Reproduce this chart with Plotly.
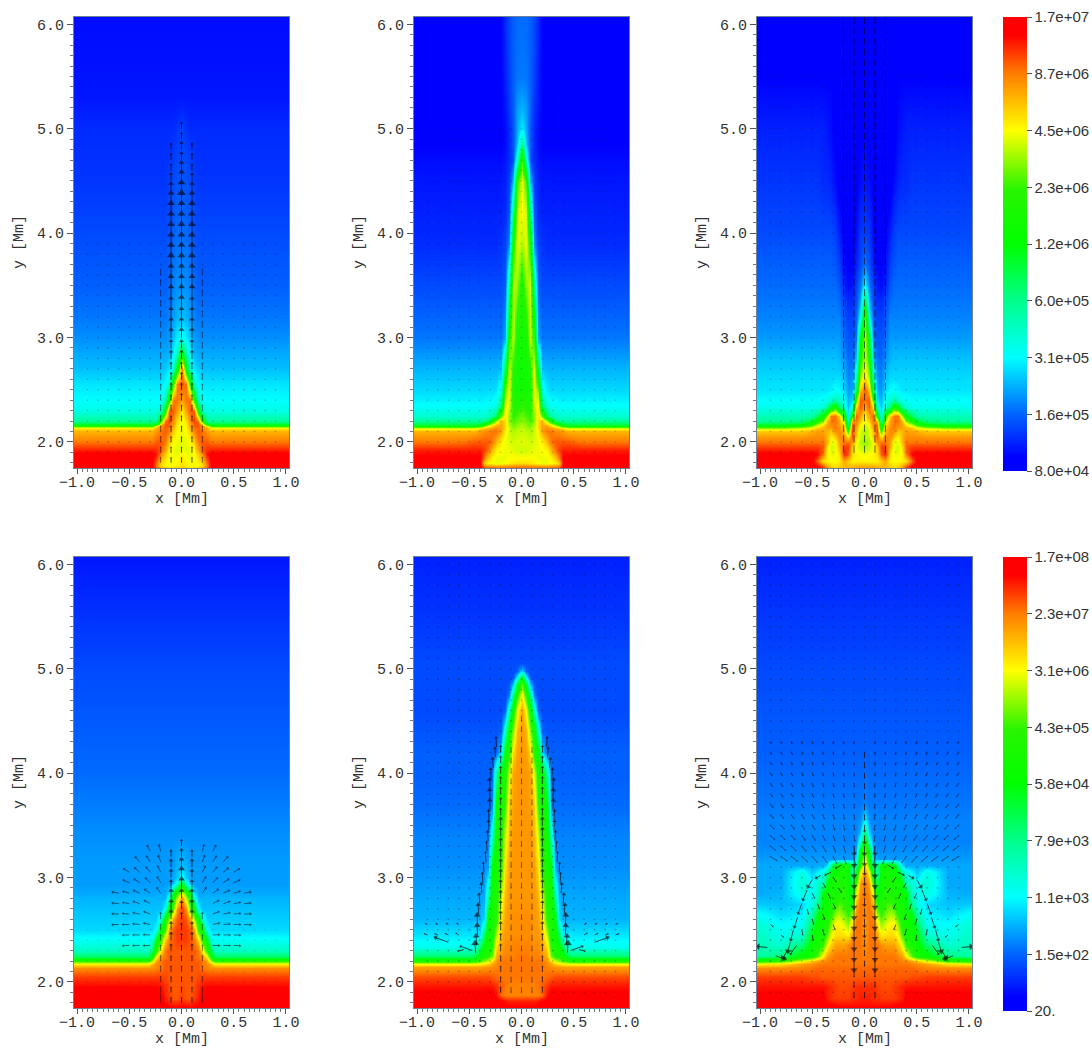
import math
import plotly.graph_objects as go

W, H = 1092, 1048
FONT = "Liberation Mono"

# half-width column positions [Mm]; each panel is mirror-symmetric, a short row repeats its last value outward
xh = [0, .04, .08, .12, .16, .2, .24, .28, .32, .36, .4, .45, .5, .6, .8, 1.05]

# field values in percent of the colour bar height
p1_y = [6.1, 5.3, 5.0, 4.5, 4.0, 3.5, 3.2, 3.0, 2.85, 2.7, 2.55, 2.4, 2.3, 2.2, 2.17, 2.15, 2.13, 2.1, 2.0, 1.92, 1.88, 1.78, 1.74]
p1_z = [[4], [5], [9, 8, 7], [11, 11, 10, 9, 8], [13, 13, 12, 11, 10], [16, 16, 15, 13, 12],
        [20, 19, 17, 15, 14], [26, 24, 20, 17, 16], [50, 32, 24, 19, 18], [88, 52, 30, 23, 21, 20],
        [90, 88, 60, 32, 25, 23], [84, 88, 88, 58, 32, 26, 25], [77, 84, 90, 90, 55, 32, 28],
        [74, 78, 86, 92, 88, 60, 36], [74, 77, 85, 90, 90, 80, 50, 46], [74, 76, 84, 90, 90, 86, 76, 62],
        [74, 76, 82, 88, 90, 86, 82, 76], [74, 75, 80, 87, 90, 88, 85, 82], [73, 74, 75, 80, 88, 90, 90, 88],
        [74, 73, 74, 76, 84, 90, 93, 94], [76, 74, 74, 75, 80, 86, 95, 97], [78, 76, 75, 74, 75, 78, 88, 97],
        [82, 80, 80, 80, 82, 85, 92, 97]]

p2_y = [6.1, 5.5, 5.2, 5.0, 4.85, 4.7, 4.5, 4.2, 3.9, 3.5, 3.0, 2.7, 2.5, 2.35, 2.25, 2.2, 2.16, 2.13, 2.1, 2.0, 1.92, 1.85, 1.8, 1.74]
p2_z = [[13, 13, 12, 10, 7, 3, 2], [14, 14, 12, 9, 6, 3, 2], [19, 17, 12, 8, 5, 3, 2], [24, 18, 11, 7, 4, 3],
        [38, 20, 11, 7, 4, 3], [62, 30, 11, 7, 5, 4], [74, 62, 20, 9, 6, 5], [75, 72, 38, 11, 7, 6],
        [70, 74, 58, 16, 9, 8, 7], [58, 68, 72, 36, 12, 10], [55, 56, 72, 60, 18, 14], [55, 55, 60, 74, 45, 20, 19],
        [55, 55, 58, 74, 66, 28, 23, 22], [62, 60, 60, 72, 76, 40, 28, 26, 26, 25],
        [66, 64, 62, 68, 78, 66, 42, 34, 32, 30], [68, 66, 64, 68, 78, 82, 70, 55, 42, 38, 36],
        [70, 68, 66, 70, 78, 84, 82, 76, 70, 60, 50, 46], [71, 70, 68, 72, 78, 84, 86, 84, 82, 80, 76, 72],
        [72, 71, 70, 72, 76, 84, 88, 88, 86, 86, 84, 82], [73, 73, 72, 73, 74, 76, 82, 88, 90, 90, 90, 90, 89, 88],
        [72, 72, 73, 74, 74, 75, 76, 82, 88, 92, 94], [75, 75, 75, 75, 74, 74, 74, 76, 80, 88, 97],
        [78, 78, 77, 76, 75, 74, 74, 75, 76, 80, 97], [94, 94, 94, 94, 94, 94, 94, 94, 94, 95, 97]]

p3_y = [6.1, 5.5, 5.0, 4.5, 4.0, 3.7, 3.5, 3.35, 3.2, 3.0, 2.8, 2.62, 2.5, 2.4, 2.33, 2.25, 2.2, 2.16, 2.13, 2.1, 2.05, 2.0, 1.95, 1.88, 1.82, 1.76, 1.74]
p3_z = [[3], [3, 3, 2, 2, 2, 2, 2, 2, 3], [3, 2, 1, 1, 1, 1, 1, 2, 4, 5, 6], [5, 4, 2, 1, 1, 1, 1, 4, 6, 7, 7, 8],
        [9, 8, 4, 2, 2, 2, 6, 9, 10], [14, 10, 6, 3, 3, 4, 9, 11, 12], [25, 14, 9, 5, 4, 6, 11, 13],
        [45, 18, 10, 7, 7, 9, 13, 14], [65, 25, 12, 9, 9, 11, 15], [72, 48, 14, 11, 11, 13, 17],
        [72, 58, 20, 13, 13, 16, 19, 20], [78, 68, 32, 16, 15, 20, 22], [90, 80, 42, 18, 17, 22, 25, 26, 24, 23],
        [88, 90, 62, 22, 19, 27, 30, 34, 30, 27, 26, 25], [84, 90, 78, 30, 20, 30, 40, 58, 50, 36, 30, 27],
        [76, 84, 90, 55, 24, 58, 80, 88, 88, 70, 52, 42, 34, 33], [74, 80, 88, 82, 30, 70, 84, 88, 88, 82, 68, 56, 46, 38, 36],
        [72, 76, 86, 90, 42, 78, 84, 88, 86, 84, 78, 72, 62, 52, 48], [71, 74, 84, 90, 50, 80, 86, 88, 84, 84, 82, 80, 76, 72, 68],
        [70, 73, 82, 92, 60, 82, 86, 86, 80, 82, 84, 84, 82, 80], [70, 72, 80, 90, 78, 86, 86, 80, 76, 82, 86, 86, 86, 85],
        [68, 70, 76, 86, 88, 88, 84, 74, 74, 82, 88, 88, 88], [70, 72, 74, 80, 92, 92, 82, 74, 72, 78, 90, 92],
        [74, 75, 76, 78, 90, 94, 78, 74, 74, 76, 88, 96, 97], [76, 76, 76, 76, 80, 84, 76, 75, 75, 76, 78, 90, 97],
        [84, 84, 84, 82, 82, 82, 80, 78, 80, 84, 92, 97], [94, 94, 94, 94, 94, 94, 94, 94, 94, 94, 96, 97]]

p4_y = [6.1, 5.0, 4.0, 3.4, 3.1, 3.0, 2.95, 2.85, 2.8, 2.7, 2.6, 2.5, 2.4, 2.3, 2.24, 2.2, 2.17, 2.13, 2.05, 1.95, 1.85, 1.74]
p4_z = [[5], [10], [13], [16], [20, 19, 17], [26, 21, 18, 17], [48, 28, 19, 17], [72, 62, 46, 22, 18], [86, 70, 58, 30, 19],
        [92, 86, 64, 55, 26, 20], [92, 90, 84, 68, 56, 30, 21], [92, 92, 90, 84, 62, 54, 26, 22], [92, 92, 90, 88, 80, 62, 50, 27, 26],
        [90, 90, 90, 90, 88, 78, 60, 42, 32], [90, 90, 90, 90, 88, 86, 76, 56, 42], [90, 90, 90, 90, 90, 88, 84, 70, 62],
        [90, 90, 90, 90, 90, 88, 86, 82, 76], [90, 90, 90, 90, 90, 88, 87, 86], [90, 90, 90, 90, 91, 92], [91, 90, 90, 91, 93, 95, 96],
        [92, 90, 90, 92, 94, 97], [97]]

p5_y = [6.1, 5.5, 5.05, 4.98, 4.92, 4.85, 4.75, 4.6, 4.4, 4.2, 4.0, 3.7, 3.4, 3.1, 2.8, 2.6, 2.45, 2.33, 2.25, 2.2, 2.17, 2.14, 2.05, 1.95, 1.87, 1.82, 1.74]
p5_z = [[6], [8], [10], [22, 12, 10], [48, 24, 11, 10], [64, 46, 20, 11, 10], [76, 60, 38, 14, 10], [84, 74, 56, 32, 12, 10],
        [85, 82, 68, 55, 30, 12, 11], [85, 84, 78, 60, 52, 22, 12], [85, 85, 84, 72, 58, 54, 34, 13, 12], [85, 85, 84, 80, 62, 56, 50, 15, 13],
        [85, 85, 85, 82, 72, 58, 55, 30, 15], [85, 85, 85, 84, 78, 60, 56, 50, 17, 16], [85, 85, 85, 85, 82, 72, 58, 55, 36, 18],
        [86, 86, 86, 85, 84, 78, 60, 56, 52, 22, 19], [86, 86, 86, 85, 85, 82, 70, 56, 54, 42, 23],
        [87, 87, 87, 86, 86, 84, 78, 60, 56, 52, 42, 27], [88, 88, 87, 87, 87, 86, 82, 66, 60, 58, 52, 42, 40],
        [88, 88, 88, 88, 88, 88, 85, 78, 72, 68, 65, 60, 58], [88, 88, 88, 88, 88, 88, 86, 84, 80, 78, 76, 75],
        [88, 88, 88, 88, 88, 88, 87, 86, 85, 85, 84], [88, 88, 88, 88, 88, 88, 89, 90, 91], [87, 87, 87, 87, 88, 90, 93, 95],
        [87, 87, 87, 87, 87, 89, 95, 97], [94, 94, 94, 94, 95, 97], [97]]

p6_y = [6.1, 5.0, 4.2, 3.7, 3.55, 3.45, 3.35, 3.25, 3.18, 3.12, 3.05, 2.95, 2.85, 2.75, 2.65, 2.55, 2.45, 2.35, 2.25, 2.2, 2.17, 2.13, 2.05, 1.95, 1.85, 1.78, 1.74]
p6_z = [[6], [10], [12], [15, 14], [24, 16, 15], [38, 19, 15], [55, 28, 16, 15], [66, 50, 18, 16], [72, 58, 24, 18, 17],
        [80, 60, 35, 40, 52, 55, 52, 50, 36, 22, 18], [86, 74, 48, 32, 54, 56, 55, 54, 50, 35, 28, 24, 20, 28, 18],
        [88, 84, 62, 42, 55, 58, 57, 56, 55, 50, 32, 30, 26, 30, 18], [88, 86, 74, 48, 55, 60, 58, 56, 55, 52, 50, 30, 26, 28, 19, 18],
        [87, 88, 82, 58, 58, 62, 64, 60, 56, 55, 50, 36, 28, 22, 20, 21], [86, 88, 86, 68, 62, 66, 70, 68, 60, 56, 54, 48, 34, 24, 22, 26],
        [85, 88, 88, 78, 68, 72, 76, 76, 68, 58, 55, 52, 42, 26, 25, 30], [85, 88, 88, 84, 76, 78, 78, 78, 74, 64, 56, 54, 50, 30, 27, 32],
        [86, 88, 88, 88, 86, 84, 84, 84, 80, 74, 62, 56, 53, 40, 30, 33], [87, 88, 88, 88, 88, 88, 88, 88, 86, 84, 76, 64, 56, 52, 38, 35],
        [88, 88, 88, 88, 88, 88, 88, 88, 88, 87, 86, 84, 80, 74, 62, 58], [88, 88, 88, 88, 88, 88, 88, 88, 88, 88, 88, 87, 86, 84, 78, 76],
        [89, 89, 89, 89, 89, 89, 89, 89, 89, 89, 89, 89, 88, 87, 86], [90, 90, 90, 90, 90, 90, 90, 90, 90, 90, 90, 91, 91, 92],
        [93, 93, 93, 92, 91, 91, 91, 92, 93, 94, 95], [94, 94, 93, 93, 92, 92, 92, 92, 93, 94, 97], [95, 95, 95, 95, 95, 95, 95, 96, 96, 97], [97]]

# colour bar labels
cbar_top_labels = ["8.0e+04", "1.6e+05", "3.1e+05", "6.0e+05", "1.2e+06", "2.3e+06", "4.5e+06", "8.7e+06", "1.7e+07"]
cbar_bot_labels = ["20.", "1.5e+02", "1.1e+03", "7.9e+03", "5.8e+04", "4.3e+05", "3.1e+06", "2.3e+07", "1.7e+08"]
cbar_ticks = [0, 12.5, 25, 37.5, 50, 62.5, 75, 87.5, 100]

# faint vector dots
grid_x = [-.9, -.8, -.7, -.6, -.5, -.4, -.3, -.2, -.1, 0, .1, .2, .3, .4, .5, .6, .7, .8, .9]
grid_y = [1.9, 2.0, 2.1, 2.2, 2.3, 2.4, 2.5, 2.6, 2.7, 2.8, 2.9, 3.0, 3.1, 3.2, 3.3, 3.4, 3.5, 3.6, 3.7, 3.8, 3.9, 4.0, 4.1, 4.2, 4.3, 4.4,
          4.5, 4.6, 4.7, 4.8, 4.9, 5.0, 5.1, 5.2, 5.3, 5.4, 5.5, 5.6, 5.7, 5.8, 5.9, 6.0]
dot_top = [3.9, 5.0, 5.5, 2.5, 6.0, 6.0]
dot_opacity = [.25, .2, .2, .12, .3, .3]

# vertical arrow stacks: heights and head sizes per column
p1_cy = [1.8, 1.9, 2.0, 2.1, 2.2, 2.3, 2.4, 2.5, 2.6, 2.7, 2.8, 2.9, 3.0, 3.1, 3.2, 3.3, 3.4, 3.5, 3.6, 3.7, 3.8, 3.9, 4.0, 4.1, 4.2, 4.3, 4.4, 4.5, 4.6, 4.7, 4.8, 4.9, 5.0]
p1_s0 = [1, 1, 1, 1, 1, 1, 2, 2, 2, 2, 3, 3, 4, 4, 4, 5, 5, 5, 5, 6, 6, 6, 6, 6, 6, 7, 6, 5, 4, 3, 3, 2, 2]
p1_s1 = [1, 1, 1, 1, 1, 1, 1, 2, 2, 2, 3, 3, 4, 4, 4, 4, 5, 5, 5, 6, 6, 6, 6, 6, 6, 5, 4, 3, 2, 2, 2]
p1_s2 = [1, 1, 1, 1, 1, 1, 1, 1, 1, 1, 1, 1, 1, 1, 1, 1, 1, 1, 1]

p3_cy = [1.9, 2.0, 2.1, 2.2, 2.3, 2.4, 2.5, 2.6, 2.7, 2.8, 2.9, 3.0, 3.1, 3.2, 3.3, 3.4, 3.5, 3.6, 3.7, 3.8, 3.9, 4.0, 4.1, 4.2, 4.3, 4.4, 4.5, 4.6, 4.7, 4.8, 4.9, 5.0, 5.1, 5.2, 5.3, 5.4, 5.5, 5.6, 5.7, 5.8, 5.9, 6.0]

p4_cy = [1.8, 1.9, 2.0, 2.1, 2.2, 2.3, 2.4, 2.5, 2.6, 2.7, 2.8, 2.9, 3.0, 3.1, 3.2, 3.3]
p4_s0 = [1, 1, 1, 1, 1, 1, 2, 2, 2, 3, 4, 5, 5, 4, 3, 2]
p4_s1 = [1, 1, 1, 1, 1, 2, 3, 3, 4, 4, 4, 3, 3, 3, 2]
p4_s2 = [0, 1, 1, 1, 1, 1, 1, 1, 2]
fan_x = [.2, .3, .4, .5, .6]
fan_y = [3.25, 3.15, 3.05, 2.95, 2.85, 2.75, 2.65, 2.55, 2.45, 2.35]
fan_angle = [[14, 26, None, None, None], [20, 32, 42, None, None], [25, 38, 48, 58, None], [30, 44, 56, 66, None],
             [34, 55, 66, 74, 80], [None, 62, 72, 80, 85], [None, 68, 78, 85, 88], [None, 78, 85, 90, 92],
             [None, 88, 90, 92, None], [None, 92, 92, 94, None]]

p5_cy = [1.9, 2.0, 2.1, 2.2, 2.3, 2.4, 2.5, 2.6, 2.7, 2.8, 2.9, 3.0, 3.1, 3.2, 3.3, 3.4, 3.5, 3.6, 3.7, 3.8, 3.9, 4.0, 4.1, 4.2, 4.3, 4.4, 4.5]
p5_s2 = [1, 1, 1, 1, 2, 2, 3, 3, 3, 3, 3, 3, 3, 3, 3, 3, 3, 2, 2, 2, 2, 2, 2, 2]
p5_edge_x = [.44, .43, .42, .42, .41, .40, .38, .37, .36, .34, .33, .32, .31, .31, .30, .30, .30, .29, .27, .25, .24]
p5_edge_y = [2.28, 2.35, 2.45, 2.55, 2.65, 2.75, 2.85, 2.95, 3.05, 3.15, 3.25, 3.35, 3.45, 3.55, 3.65, 3.75, 3.85, 3.95, 4.05, 4.15, 4.25]
p5_edge_s = [6, 5, 5, 5, 4, 3, 3, 2, 2, 2, 2, 3, 3, 3, 4, 4, 4, 3, 3, 2, 2]
p5_side_x = [.47, .55, .7, .6, .7, .8, .9, .6, .7, .8, .9]
p5_side_y = [2.3, 2.31, 2.38, 2.45, 2.45, 2.45, 2.45, 2.55, 2.55, 2.55, 2.55]
p5_side_a = [70, 105, 70, 60, 65, 70, 70, 60, 60, 65, 65]
p5_side_l = [.12, .06, .13, .03, .03, .03, .03, .02, .02, .02, .02]
p5_side_s = [2, 1, 4, 1, 1, 1, 1, 1, 1, 1, 1]

p6_cy = [1.9, 2.0, 2.1, 2.2, 2.3, 2.4, 2.5, 2.6, 2.7, 2.8, 2.9, 3.0, 3.1, 3.2, 3.3, 3.4, 3.5, 3.6, 3.7, 3.8, 3.9, 4.0, 4.1, 4.2]
p6_s0 = [1, 1, 1, 1, 1, 2, 3, 3, 3, 3, 3, 3, 3, 4, 4, 3, 2, 1, 1, 1, 1, 1, 1, 1]
p6_s1 = [1, 1, 1, 5, 5, 5, 5, 5, 5, 5, 5, 5, 5, 5, 4]
fan6_x = [.1, .2, .3, .4, .5, .6, .7, .8, .9]
fan6_y = [4.3, 4.2, 4.1, 4.0, 3.9, 3.8, 3.7, 3.6, 3.5, 3.4, 3.3, 3.2]
fan6_len = [.015, .02, .02, .025, .03, .03, .035, .04, .045, .05, .06, .07]
fan6_angle = [[183, 187, 190, 193, 196, 199, 202, 205, 208], [184, 187, 191, 194, 197, 200, 203, 206, 209],
              [184, 188, 191, 195, 198, 202, 205, 208, 211], [184, 188, 192, 196, 200, 203, 206, 210, 213],
              [184, 189, 193, 197, 201, 205, 208, 212, 215], [185, 190, 194, 198, 203, 207, 210, 214, 217],
              [185, 190, 195, 200, 204, 209, 212, 216, 219], [186, 191, 197, 202, 207, 211, 215, 219, 222],
              [186, 193, 198, 204, 209, 214, 218, 222, 225], [187, 194, 200, 207, 212, 218, 222, 226, 229],
              [188, 196, 203, 210, 216, 221, 225, 229, 232], [190, 200, 208, 216, 222, 228, 232, 236, 239]]
p6_edge_x = [.22, .32, .42, .5, .55, .6, .64, .68, .71, .74, .85, .93, .3, .4, .5, .25, .35, .45, .55, .3, .4, .5, .6, .3, .4, .5, .65, .8, .9]
p6_edge_y = [3.12, 3.05, 3.02, 2.98, 2.88, 2.75, 2.62, 2.5, 2.38, 2.3, 2.25, 2.33, 3.0, 2.95, 2.85, 2.9, 2.85, 2.75, 2.7, 2.75, 2.65, 2.6, 2.5, 2.55, 2.5, 2.45, 2.35, 2.45, 2.55]
p6_edge_a = [120, 115, 120, 150, 158, 160, 162, 165, 165, 150, 250, 85, 215, 210, 205, 215, 205, 200, 195, 205, 200, 195, 190, 200, 195, 190, 145, 230, 230]
p6_edge_l = [.06, .06, .05, .08, .1, .1, .1, .1, .09, .08, .09, .09, .05, .05, .05, .05, .05, .05, .05, .05, .05, .05, .05, .05, .05, .05, .1, .03, .03]
p6_edge_s = [2, 2, 3, 4, 3, 3, 3, 3, 5, 5, 4, 5, 1, 1, 1, 1, 1, 1, 1, 1, 1, 1, 1, 1, 1, 1, 2, 1, 1]

colorscale = [[0, "rgb(0,0,255)"], [.03, "rgb(0,0,255)"], [.125, "rgb(0,100,255)"], [.25, "rgb(0,255,255)"], [.375, "rgb(0,255,140)"],
              [.5, "rgb(0,255,0)"], [.62, "rgb(40,245,0)"], [.75, "rgb(255,255,0)"], [.875, "rgb(255,125,0)"], [.96, "rgb(255,0,0)"], [1, "rgb(255,0,0)"]]

panel_left = [74, 414, 757]
row_top = [17, 557]
PW, PH = 215, 451
XR = [-1.029, 1.029]
YR = [1.75, 6.07]

fig = go.Figure()
layout = {}
notes = []


def full_grid(ys, rows):
    xs = [-v for v in reversed(xh[1:])] + xh
    out = []
    for row in rows:
        r = row + [row[-1]] * (len(xh) - len(row))
        out.append(list(reversed(r[1:])) + r)
    return xs, list(reversed(ys)), list(reversed(out))


def add_arrows(ax, xs, ys, angles, lengths, sizes, mirror=True, opacity=.85):
    sx, sy, hx, hy, ha, hs = [], [], [], [], [], []
    for x, y, a, l, s in zip(xs, ys, angles, lengths, sizes):
        for sign in ([1, -1] if (mirror and x != 0) else [1]):
            u = sign * l * math.sin(math.radians(a))
            v = l * math.cos(math.radians(a))
            sx += [sign * x, sign * x + u, None]
            sy += [y, y + v, None]
            if s > 0:
                hx.append(sign * x + u)
                hy.append(y + v)
                ha.append(sign * a)
                hs.append(s + 1)
    fig.add_trace(go.Scatter(x=sx, y=sy, mode="lines", line=dict(color="black", width=.8), opacity=opacity,
                             xaxis=ax[0], yaxis=ax[1], showlegend=False, hoverinfo="skip"))
    fig.add_trace(go.Scatter(x=hx, y=hy, mode="markers", opacity=opacity, xaxis=ax[0], yaxis=ax[1], showlegend=False, hoverinfo="skip",
                             marker=dict(symbol="triangle-up", size=hs, angle=ha, color="black", line=dict(width=0))))


def column(ax, xc, ys, sizes, length, angle=0, opacity=.85):
    n = len(sizes)
    lens = [length * min(1, .45 + .11 * s) if s else length for s in sizes]
    add_arrows(ax, [xc] * n, ys[:n], [angle] * n, lens, sizes, opacity=opacity)


fields = [(p1_y, p1_z), (p2_y, p2_z), (p3_y, p3_z), (p4_y, p4_z), (p5_y, p5_z), (p6_y, p6_z)]
axes = []
for i, (ys, rows) in enumerate(fields):
    r, c = divmod(i, 3)
    name = "" if i == 0 else str(i + 1)
    xa, ya = "x" + name, "y" + name
    axes.append((xa, ya))
    left, top = panel_left[c], row_top[r]
    tickfont = dict(family=FONT, size=15, color="#333")
    common = dict(showgrid=False, zeroline=False, showline=True, mirror=True, linecolor="#6f7f96", linewidth=1,
                  ticks="outside", tickcolor="#555", tickwidth=1, tickfont=tickfont, tickformat=".1f")
    layout["xaxis" + name] = dict(common, domain=[left / W, (left + PW) / W], range=XR, anchor=ya, dtick=.5, tick0=0, ticklen=5,
                                  ticklabelstandoff=-5,
                                  minor=dict(ticks="outside", ticklen=3, dtick=.05, tick0=0, tickcolor="#777"))
    layout["yaxis" + name] = dict(common, domain=[1 - (top + PH) / H, 1 - top / H], range=YR, anchor=xa, dtick=1, tick0=0, ticklen=6,
                                  minor=dict(ticks="outside", ticklen=3, dtick=.1, tick0=0, tickcolor="#777"))
    notes.append(dict(text="x [Mm]", xref="paper", yref="paper", x=(left + PW / 2) / W, y=1 - (top + 482.5) / H, xanchor="center",
                      yanchor="middle", showarrow=False, font=dict(family=FONT, size=15, color="#333")))
    notes.append(dict(text="y [Mm]", xref="paper", yref="paper", x=(left - 55) / W, y=1 - (top + 225) / H, xanchor="center",
                      yanchor="middle", showarrow=False, textangle=-90, font=dict(family=FONT, size=15, color="#333")))
    xs, yy, zz = full_grid(ys, rows)
    kw = dict(showscale=False)
    if c == 0:
        kw = dict(showscale=True, colorbar=dict(
            x=1003 / W, xanchor="left", xpad=0, y=1 - (top + 454) / H, yanchor="bottom", ypad=0, len=454, lenmode="pixels",
            thickness=24, thicknessmode="pixels", tickmode="array", tickvals=cbar_ticks,
            ticktext=cbar_top_labels if r == 0 else cbar_bot_labels, outlinewidth=0, ticks="outside", ticklen=5, tickcolor="#555",
            tickfont=dict(family="Liberation Sans", size=15, color="#333")))
    fig.add_trace(go.Heatmap(x=xs, y=yy, z=zz, zmin=0, zmax=100, colorscale=colorscale, zsmooth="best", xaxis=xa, yaxis=ya,
                             hoverinfo="skip", **kw))
    gx, gy = [], []
    for y in grid_y:
        if y <= dot_top[i]:
            for x in grid_x:
                gx.append(x)
                gy.append(y)
    fig.add_trace(go.Scatter(x=gx, y=gy, mode="markers", xaxis=xa, yaxis=ya, showlegend=False, hoverinfo="skip",
                             marker=dict(size=1.7, color="black", opacity=dot_opacity[i], line=dict(width=0))))

# panel 1
column(axes[0], 0, p1_cy, p1_s0, .085)
column(axes[0], .1, p1_cy, p1_s1, .085)
column(axes[0], .2, p1_cy, p1_s2, .09, opacity=.6)
# panel 3
for xc in (0, .1, .2):
    column(axes[2], xc, p3_cy, [0] * len(p3_cy), .065, opacity=.7)
# panel 4
column(axes[3], 0, p4_cy, p4_s0, .085)
column(axes[3], .1, p4_cy, p4_s1, .085)
column(axes[3], .2, p4_cy, p4_s2, .09, opacity=.6)
fx, fy, fa = [], [], []
for y, row in zip(fan_y, fan_angle):
    for x, a in zip(fan_x, row):
        if a is not None:
            fx.append(x); fy.append(y); fa.append(a)
add_arrows(axes[3], fx, fy, fa, [.06] * len(fx), [2] * len(fx), opacity=.65)
# panel 5
column(axes[4], 0, p5_cy, [0] * 27, .05, opacity=.6)
column(axes[4], .1, p5_cy, [0] * 24, .05, opacity=.6)
column(axes[4], .2, p5_cy, p5_s2, .085)
add_arrows(axes[4], p5_edge_x, p5_edge_y, [3] * len(p5_edge_x), [.09] * len(p5_edge_x), p5_edge_s)
add_arrows(axes[4], p5_side_x, p5_side_y, p5_side_a, p5_side_l, p5_side_s)
# panel 6
column(axes[5], 0, p6_cy, p6_s0, .085, angle=180)
column(axes[5], .1, p6_cy, p6_s1, .085, angle=180)
fx, fy, fa, fl = [], [], [], []
for y, l, row in zip(fan6_y, fan6_len, fan6_angle):
    for x, a in zip(fan6_x, row):
        fx.append(x); fy.append(y); fa.append(a); fl.append(l)
add_arrows(axes[5], fx, fy, fa, fl, [1] * len(fx), opacity=.6)
add_arrows(axes[5], p6_edge_x, p6_edge_y, p6_edge_a, p6_edge_l, p6_edge_s)

fig.update_layout(width=W, height=H, margin=dict(l=0, r=0, t=0, b=0, autoexpand=False), paper_bgcolor="white", plot_bgcolor="white",
                  showlegend=False, annotations=notes, **layout)
fig.write_html("out.html", config={"displayModeBar": False},
               post_script="document.body.style.margin='0';document.body.style.overflow='hidden';")
